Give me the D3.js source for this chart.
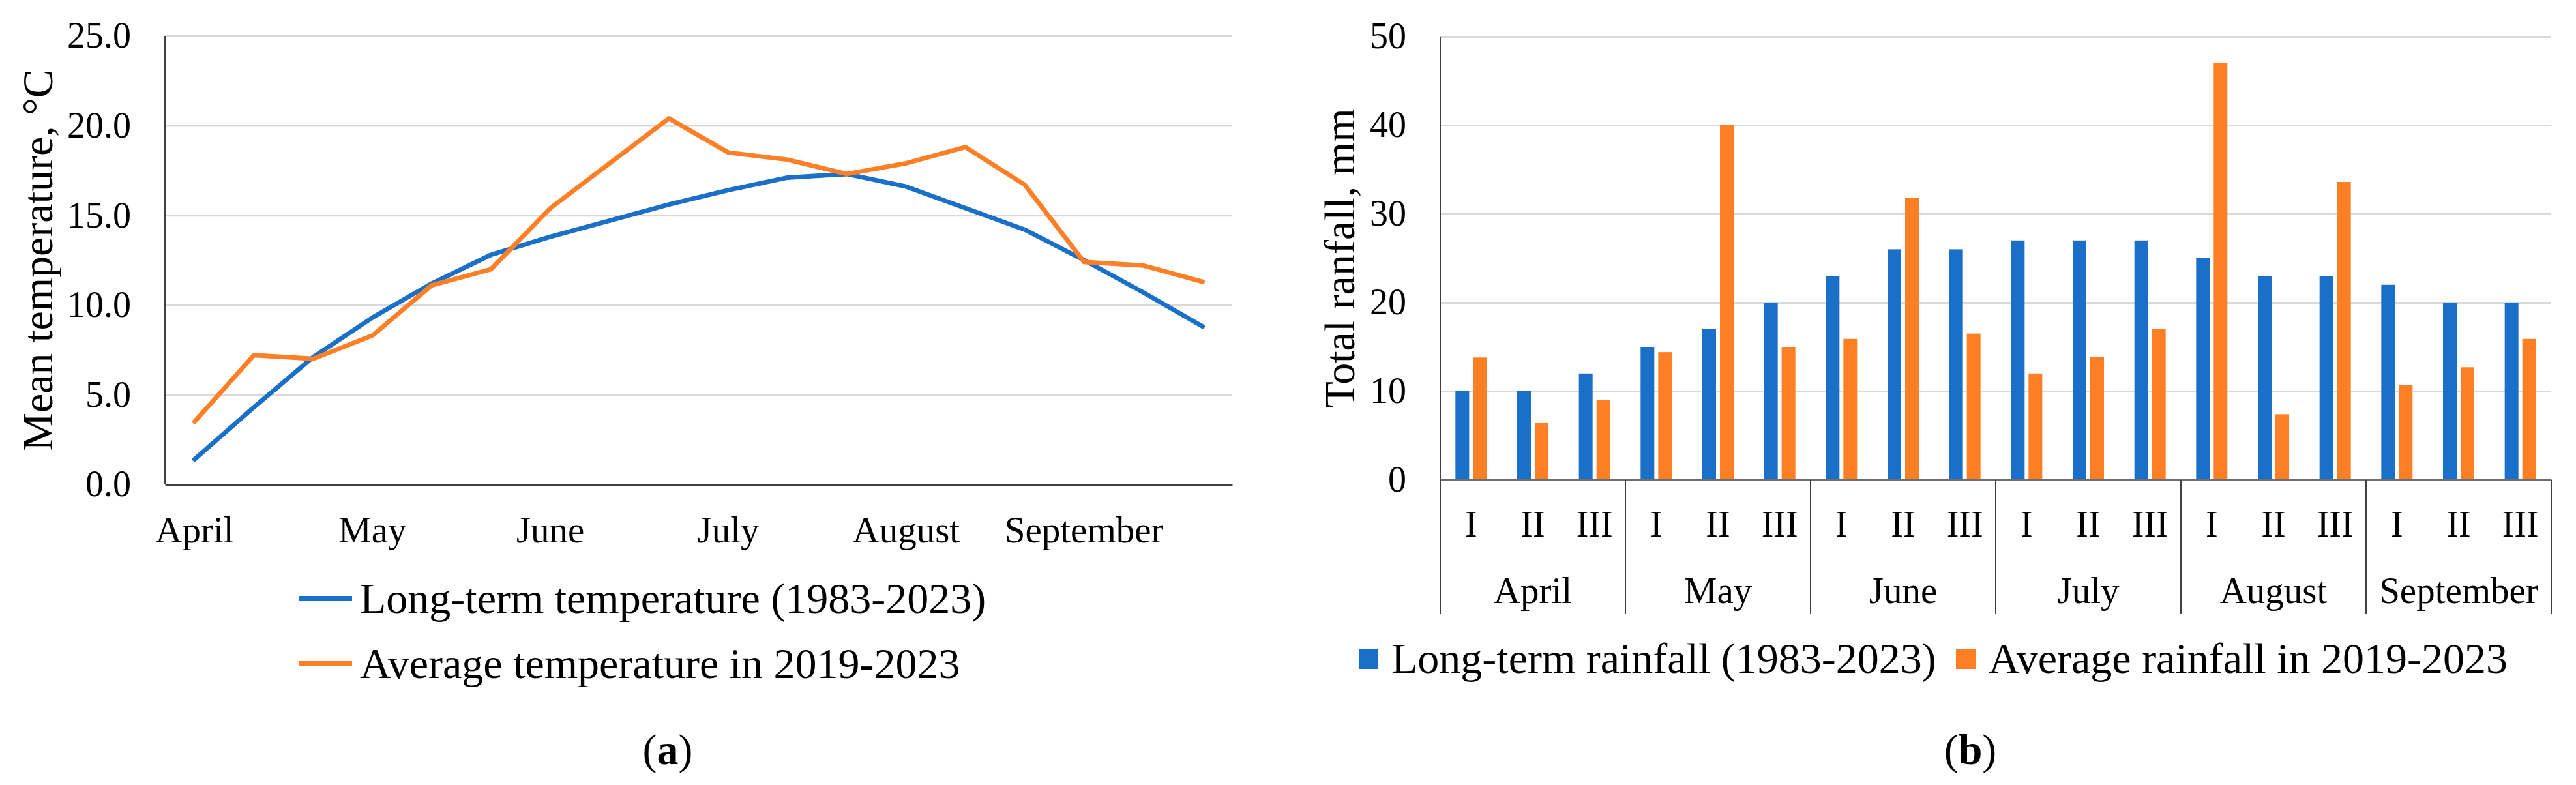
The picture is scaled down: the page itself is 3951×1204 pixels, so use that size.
<!DOCTYPE html>
<html>
<head>
<meta charset="utf-8">
<script src="https://cdn.jsdelivr.net/npm/d3@7"></script>
<style>
  body { margin: 0; background: #fff; }
  text { font-family: "Liberation Serif", "Times New Roman", serif; fill: #000; }
</style>
</head>
<body>
<div id="chart"></div>
<script>
// Data
const months = ['April', 'May', 'June', 'July', 'August', 'September'];
const decadeLabels = ['I', 'II', 'III'];
const tempLongTerm = [1.4, 4.3, 7.1, 9.3, 11.2, 12.8, 13.8, 14.7, 15.6, 16.4, 17.1, 17.3, 16.6, 15.4, 14.2, 12.5, 10.7, 8.8];
const tempRecent = [3.5, 7.2, 7.0, 8.3, 11.1, 12.0, 15.4, 17.9, 20.4, 18.5, 18.1, 17.3, 17.9, 18.8, 16.7, 12.4, 12.2, 11.3];
const rainLongTerm = [10, 10, 12, 15, 17, 20, 23, 26, 26, 27, 27, 27, 25, 23, 23, 22, 20, 20];
const rainRecent = [13.8, 6.4, 9.0, 14.4, 40.0, 15.0, 15.9, 31.8, 16.5, 12.0, 13.9, 17.0, 47.0, 7.4, 33.6, 10.7, 12.7, 15.9];
const tempTicks = [0, 5, 10, 15, 20, 25];
const rainTicks = [0, 10, 20, 30, 40, 50];
const tempSeriesNames = ['Long-term temperature (1983-2023)', 'Average temperature in 2019-2023'];
const rainSeriesNames = ['Long-term rainfall (1983-2023)', 'Average rainfall in 2019-2023'];

const blue = '#1a70c8';
const orange = '#ff7f27';
const gridColor = '#d9d9d9';
const axisColor = '#404040';

const idx = d3.range(18);

const svg = d3.select('#chart')
    .append('svg')
    .attr('width', 3951)
    .attr('height', 1204);

// ---------- (a) temperature lines ----------
const a = { left: 253, right: 1890, top: 55, bottom: 743 };

const xA = d3.scaleBand().domain(idx).range([a.left, a.right]);
const yA = d3.scaleLinear().domain([0, 25]).range([a.bottom, a.top]);

// gridlines
svg.append('g')
    .attr('transform', `translate(${a.left},0)`)
    .call(d3.axisLeft(yA).tickValues(tempTicks.slice(1)).tickSize(-(a.right - a.left)).tickFormat(''))
    .call(g => g.select('.domain').remove())
    .selectAll('line').attr('stroke', gridColor).attr('stroke-width', 3);

// y axis labels
svg.append('g')
    .attr('transform', `translate(${a.left},0)`)
    .call(d3.axisLeft(yA).tickValues(tempTicks).tickSize(0).tickPadding(52).tickFormat(d3.format('.1f')))
    .call(g => g.select('.domain').remove())
    .selectAll('text').style('font-size', '56px');

// axis lines
svg.append('line')
    .attr('x1', a.left).attr('x2', a.left).attr('y1', a.top).attr('y2', a.bottom)
    .attr('stroke', axisColor).attr('stroke-width', 2);

svg.append('g')
    .attr('transform', `translate(0,${a.bottom})`)
    .call(d3.axisBottom(xA).tickValues(idx.filter(i => i % 3 === 0)).tickSize(0).tickFormat(i => months[i / 3]))
    .call(g => g.select('.domain').attr('stroke', axisColor).attr('stroke-width', 3))
    .selectAll('text')
    .attr('dy', null)
    .attr('y', 89)
    .style('font-size', '57px');

const lineA = d3.line()
    .x((d, i) => xA(i) + xA.bandwidth() / 2)
    .y(d => yA(d));

[[tempLongTerm, blue], [tempRecent, orange]].forEach(([vals, col]) => {
    svg.append('path')
        .datum(vals)
        .attr('d', lineA)
        .attr('fill', 'none')
        .attr('stroke', col)
        .attr('stroke-width', 7)
        .attr('stroke-linejoin', 'round')
        .attr('stroke-linecap', 'round');
});

svg.append('text')
    .attr('transform', `translate(80,${(a.top + a.bottom) / 2}) rotate(-90)`)
    .attr('text-anchor', 'middle')
    .style('font-size', '66px')
    .text('Mean temperature, \u00b0C');

// legend (a)
const legA = svg.append('g')
    .selectAll('g')
    .data(tempSeriesNames)
    .enter()
    .append('g')
    .attr('transform', (d, i) => `translate(458,${918 + i * 100})`);

legA.append('line')
    .attr('x1', 0).attr('x2', 82)
    .attr('stroke', (d, i) => i === 0 ? blue : orange)
    .attr('stroke-width', 8);

legA.append('text')
    .attr('x', 94)
    .attr('y', 22)
    .style('font-size', '66px')
    .text(d => d);

// ---------- (b) rainfall bars ----------
const b = { left: 2209, right: 3913, top: 56, bottom: 736 };

const xB = d3.scaleBand().domain(idx).range([b.left, b.right]);
const xMonth = d3.scaleBand().domain(months).range([b.left, b.right]);
const yB = d3.scaleLinear().domain([0, 50]).range([b.bottom, b.top]);

svg.append('g')
    .attr('transform', `translate(${b.left},0)`)
    .call(d3.axisLeft(yB).tickValues(rainTicks.slice(1)).tickSize(-(b.right - b.left)).tickFormat(''))
    .call(g => g.select('.domain').remove())
    .selectAll('line').attr('stroke', gridColor).attr('stroke-width', 3);

svg.append('g')
    .attr('transform', `translate(${b.left},0)`)
    .call(d3.axisLeft(yB).tickValues(rainTicks).tickSize(0).tickPadding(52).tickFormat(d3.format('d')))
    .call(g => g.select('.domain').remove())
    .selectAll('text').style('font-size', '56px');

svg.append('line')
    .attr('x1', b.left).attr('x2', b.left).attr('y1', b.top).attr('y2', b.bottom)
    .attr('stroke', axisColor).attr('stroke-width', 2);

const barW = 21, barGap = 6;

svg.append('g')
    .selectAll('rect')
    .data(rainLongTerm)
    .enter()
    .append('rect')
    .attr('x', (d, i) => xB(i) + xB.bandwidth() / 2 - barGap / 2 - barW)
    .attr('y', d => yB(d))
    .attr('width', barW)
    .attr('height', d => yB(0) - yB(d))
    .attr('fill', blue);

svg.append('g')
    .selectAll('rect')
    .data(rainRecent)
    .enter()
    .append('rect')
    .attr('x', (d, i) => xB(i) + xB.bandwidth() / 2 + barGap / 2)
    .attr('y', d => yB(d))
    .attr('width', barW)
    .attr('height', d => yB(0) - yB(d))
    .attr('fill', orange);

// decade labels I, II, III
svg.append('g')
    .attr('transform', `translate(0,${b.bottom})`)
    .call(d3.axisBottom(xB).tickSize(0).tickFormat(i => decadeLabels[i % 3]))
    .call(g => g.select('.domain').attr('stroke', '#6e6e6e').attr('stroke-width', 3))
    .selectAll('text')
    .attr('dy', null)
    .attr('y', 87)
    .style('font-size', '56px');

// month group labels
svg.append('g')
    .attr('transform', `translate(0,${b.bottom})`)
    .call(d3.axisBottom(xMonth).tickSize(0))
    .call(g => g.select('.domain').remove())
    .selectAll('text')
    .attr('dy', null)
    .attr('y', 189)
    .style('font-size', '57px');

// group separators
svg.append('g')
    .selectAll('line')
    .data(months.map(m => xMonth(m)).concat([b.right]))
    .enter()
    .append('line')
    .attr('x1', d => d).attr('x2', d => d)
    .attr('y1', b.bottom).attr('y2', 941)
    .attr('stroke', axisColor)
    .attr('stroke-width', 2);

svg.append('text')
    .attr('transform', `translate(2077,${(b.top + b.bottom) / 2}) rotate(-90)`)
    .attr('text-anchor', 'middle')
    .style('font-size', '66px')
    .text('Total ranfall, mm');

// legend (b)
const legB = svg.append('g')
    .selectAll('g')
    .data(rainSeriesNames)
    .enter()
    .append('g')
    .attr('transform', (d, i) => `translate(${i === 0 ? 2084 : 3000},996)`);

legB.append('rect')
    .attr('width', 30).attr('height', 30)
    .attr('fill', (d, i) => i === 0 ? blue : orange);

legB.append('text')
    .attr('x', 50)
    .attr('y', 36)
    .style('font-size', '66px')
    .text(d => d);

// captions
[['a', 1024], ['b', 3022]].forEach(([letter, cx]) => {
    const t = svg.append('text')
        .attr('x', cx)
        .attr('y', 1172)
        .attr('text-anchor', 'middle')
        .style('font-size', '66px');
    t.append('tspan').text('(');
    t.append('tspan').style('font-weight', 'bold').text(letter);
    t.append('tspan').text(')');
});
</script>
</body>
</html>
